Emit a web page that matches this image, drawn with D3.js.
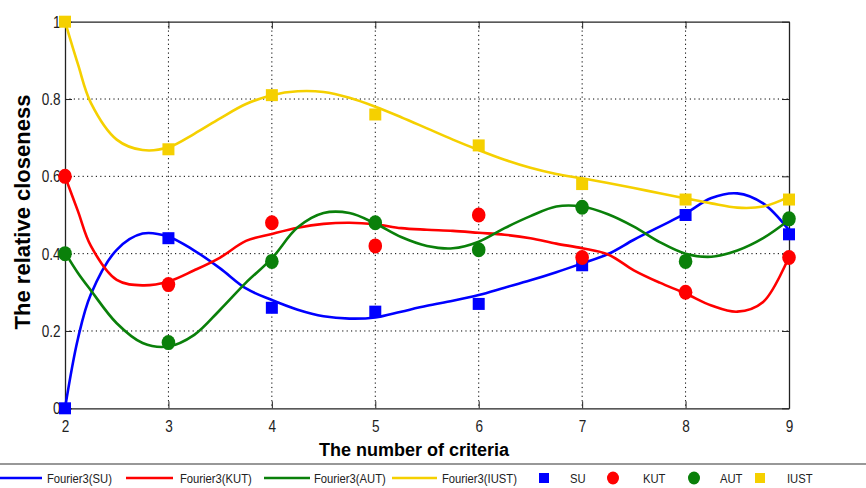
<!DOCTYPE html>
<html>
<head>
<meta charset="utf-8">
<script src="https://cdn.jsdelivr.net/npm/d3@7"></script>
<style>
  body { margin: 0; background: #fff; }
  text { font-family: "Liberation Sans", Arial, sans-serif; }
</style>
</head>
<body>
<div id="chart"></div>
<script>
// criteria counts (x) and measured closeness values
var criteria = [2, 3, 4, 5, 6, 7, 8, 9];
var su   = [0.00, 0.44, 0.26, 0.25, 0.27, 0.37, 0.50, 0.45];
var kut  = [0.60, 0.32, 0.48, 0.42, 0.50, 0.39, 0.30, 0.39];
var aut  = [0.40, 0.17, 0.38, 0.48, 0.41, 0.52, 0.38, 0.49];
var iust = [1.00, 0.67, 0.81, 0.76, 0.68, 0.58, 0.54, 0.54];

// Fourier3 fitted curves at these x positions
var fitX = [2, 2.125, 2.25, 2.5, 2.75, 3, 3.25, 3.5, 3.75, 4, 4.25, 4.5, 4.75, 5, 5.25, 5.5,
            5.75, 6, 6.25, 6.5, 6.75, 7, 7.25, 7.5, 7.75, 8, 8.25, 8.5, 8.75, 9];
var fitSU   = [0.00, 0.18, 0.295, 0.41, 0.452, 0.444, 0.408, 0.362, 0.31, 0.28, 0.255, 0.238, 0.232, 0.235, 0.25, 0.265,
               0.278, 0.293, 0.312, 0.331, 0.352, 0.375, 0.399, 0.436, 0.47, 0.504, 0.544, 0.556, 0.53, 0.461];
var fitKUT  = [0.60, 0.51, 0.42, 0.332, 0.318, 0.328, 0.357, 0.39, 0.433, 0.451, 0.467, 0.477, 0.48, 0.476, 0.466, 0.462,
               0.459, 0.454, 0.449, 0.44, 0.426, 0.414, 0.398, 0.357, 0.325, 0.297, 0.266, 0.25, 0.275, 0.392];
var fitAUT  = [0.403, 0.35, 0.305, 0.22, 0.169, 0.16, 0.19, 0.255, 0.325, 0.388, 0.468, 0.505, 0.505, 0.478, 0.443, 0.42,
               0.414, 0.431, 0.466, 0.497, 0.522, 0.522, 0.502, 0.47, 0.43, 0.40, 0.392, 0.408, 0.44, 0.487];
var fitIUST = [1.00, 0.89, 0.79, 0.695, 0.668, 0.675, 0.71, 0.75, 0.787, 0.81, 0.82, 0.818, 0.803, 0.78, 0.753, 0.724,
               0.695, 0.668, 0.643, 0.622, 0.606, 0.595, 0.583, 0.57, 0.556, 0.543, 0.53, 0.519, 0.522, 0.547];

var xTicks = [2, 3, 4, 5, 6, 7, 8, 9];
var yTicks = [0, 0.2, 0.4, 0.6, 0.8, 1];

var width = 866, height = 488;
var plotL = 65, plotR = 789, plotT = 21.7, plotB = 408.3;

var colors = { SU: "#0000ff", KUT: "#ff0000", AUT: "#0a800a", IUST: "#f5d000" };

var series = [
  { key: "SU",   pts: su,   fit: fitSU,   shape: "square" },
  { key: "KUT",  pts: kut,  fit: fitKUT,  shape: "circle" },
  { key: "AUT",  pts: aut,  fit: fitAUT,  shape: "circle" },
  { key: "IUST", pts: iust, fit: fitIUST, shape: "square" }
];

var x = d3.scaleLinear().domain([2, 9]).range([plotL, plotR]);
var y = d3.scaleLinear().domain([0, 1]).range([plotB, plotT]);

var svg = d3.select("#chart").append("svg")
    .attr("width", width)
    .attr("height", height)

// dotted grid
svg.append("g").selectAll("line")
    .data(xTicks.slice(1, -1)).enter().append("line")
    .attr("x1", d => x(d)).attr("x2", d => x(d))
    .attr("y1", plotT).attr("y2", plotB)
    .attr("stroke", "#000").attr("stroke-width", 1)
    .attr("stroke-dasharray", "1.2,3.2")
svg.append("g").selectAll("line")
    .data(yTicks.slice(1, -1)).enter().append("line")
    .attr("y1", d => y(d)).attr("y2", d => y(d))
    .attr("x1", plotL).attr("x2", plotR)
    .attr("stroke", "#000").attr("stroke-width", 1)
    .attr("stroke-dasharray", "1.2,3.2")

// axes, ticks pointing inwards like matlab
var tick = 7;
var sx = 0.8; // narrow matlab-ish digits
var xAxisG = svg.append("g").attr("transform", "translate(0," + plotB + ")")
    .call(d3.axisBottom(x).tickValues(xTicks).tickSizeInner(-tick).tickSizeOuter(0).tickPadding(12).tickFormat(d3.format("d")))
svg.append("g").attr("transform", "translate(0," + plotT + ")")
    .call(d3.axisTop(x).tickValues(xTicks).tickSizeInner(-tick).tickSizeOuter(0).tickFormat(""))
var yAxisG = svg.append("g").attr("transform", "translate(" + plotL + ",0)")
    .call(d3.axisLeft(y).tickValues(yTicks).tickSizeInner(-tick).tickSizeOuter(0).tickFormat(d => String(d)))
svg.append("g").attr("transform", "translate(" + plotR + ",0)")
    .call(d3.axisRight(y).tickValues(yTicks).tickSizeInner(-tick).tickSizeOuter(0).tickFormat(""))

svg.selectAll(".domain").attr("stroke", "#222").attr("stroke-width", 1.3)
svg.selectAll(".tick line").attr("stroke", "#222")
svg.selectAll(".tick text")
    .attr("font-size", 17).attr("fill", "#222")
    .attr("transform", "scale(" + sx + ",1)")
yAxisG.selectAll(".tick text").attr("x", -4.5 / sx)

// fitted curves
var line = d3.line()
    .x((d, i) => x(fitX[i]))
    .y(d => y(d))
    .curve(d3.curveCatmullRom.alpha(0.5));

svg.append("g").selectAll("path")
    .data(series).enter().append("path")
    .attr("d", d => line(d.fit))
    .attr("fill", "none")
    .attr("stroke", d => colors[d.key])
    .attr("stroke-width", 2.6)

// data markers
series.forEach(function (s) {
    var g = svg.append("g").attr("fill", colors[s.key]);
    if (s.shape == "square") {
        g.selectAll("rect").data(s.pts).enter().append("rect")
            .attr("x", (d, i) => x(criteria[i]) - 6)
            .attr("y", d => y(d) - 6)
            .attr("width", 12).attr("height", 12)
    } else {
        g.selectAll("ellipse").data(s.pts).enter().append("ellipse")
            .attr("cx", (d, i) => x(criteria[i]))
            .attr("cy", d => y(d))
            .attr("rx", 6.8).attr("ry", 7.5)
    }
});

// axis titles
svg.append("text")
    .attr("x", 414).attr("y", 456)
    .attr("text-anchor", "middle")
    .attr("font-size", 18).attr("font-weight", "bold")
    .text("The number of criteria")

svg.append("text")
    .attr("transform", "translate(30,212) rotate(-90)")
    .attr("text-anchor", "middle")
    .attr("font-size", 22).attr("font-weight", "bold")
    .text("The relative closeness")

// legend
svg.append("line")
    .attr("x1", 0).attr("x2", width)
    .attr("y1", 464).attr("y2", 464)
    .attr("stroke", "#333").attr("stroke-width", 1.2)

var ly = 478, ls = 0.9;
var lineItems = [
  { key: "SU",   x0: 0,   x1: 42,  tx: 47 },
  { key: "KUT",  x0: 126, x1: 173, tx: 180 },
  { key: "AUT",  x0: 264, x1: 310, tx: 314 },
  { key: "IUST", x0: 392, x1: 437, tx: 442 }
];
var lg = svg.append("g");
lg.selectAll("line").data(lineItems).enter().append("line")
    .attr("x1", d => d.x0).attr("x2", d => d.x1)
    .attr("y1", ly).attr("y2", ly)
    .attr("stroke", d => colors[d.key]).attr("stroke-width", 2.4)
lg.selectAll("text.fl").data(lineItems).enter().append("text")
    .attr("transform", d => "translate(" + d.tx + "," + (ly + 5) + ") scale(" + ls + ",1)")
    .attr("font-size", 12.5).attr("fill", "#222")
    .text(d => "Fourier3(" + d.key + ")")

var markItems = [
  { key: "SU",   cx: 544, tx: 570, shape: "square" },
  { key: "KUT",  cx: 613, tx: 643, shape: "circle" },
  { key: "AUT",  cx: 694, tx: 720, shape: "circle" },
  { key: "IUST", cx: 760, tx: 787, shape: "square" }
];
markItems.forEach(function (m) {
    if (m.shape == "square") {
        lg.append("rect").attr("x", m.cx - 5).attr("y", ly - 5)
            .attr("width", 10).attr("height", 10).attr("fill", colors[m.key])
    } else {
        lg.append("ellipse").attr("cx", m.cx).attr("cy", ly)
            .attr("rx", 6).attr("ry", 6.5).attr("fill", colors[m.key])
    }
    lg.append("text")
        .attr("transform", "translate(" + m.tx + "," + (ly + 5) + ") scale(" + ls + ",1)")
        .attr("font-size", 12.5).attr("fill", "#222")
        .text(m.key)
});
</script>
</body>
</html>
